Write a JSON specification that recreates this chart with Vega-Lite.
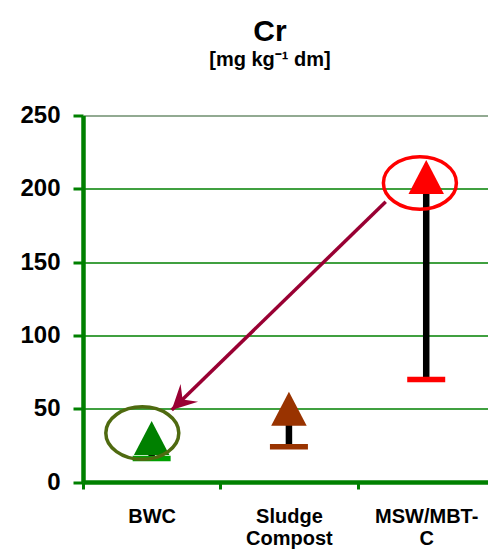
{
  "$schema": "https://vega.github.io/schema/vega-lite/v6.json",
  "width": 405,
  "height": 366.5,
  "autosize": {"type": "none"},
  "padding": {"left": 83, "top": 115.5, "right": 0, "bottom": 76},
  "background": "white",
  "title": {
    "text": "Cr",
    "subtitle": "[mg kg⁻¹ dm]",
    "font": "Liberation Sans",
    "fontSize": 30,
    "fontWeight": "bold",
    "color": "black",
    "subtitleFont": "Liberation Sans",
    "subtitleFontSize": 20,
    "subtitleFontWeight": "bold",
    "subtitleColor": "black",
    "subtitlePadding": 3,
    "anchor": "middle",
    "frame": "group",
    "dx": -15.5,
    "offset": 34
  },
  "datasets": {
    "series": [
      {"cat": "BWC", "pos": 0.5, "max": 30, "min": 16},
      {"cat": "Sludge Compost", "pos": 1.5, "max": 50, "min": 24},
      {"cat": "MSW/MBT-C", "pos": 2.5, "max": 208, "min": 70}
    ],
    "ellipses": [
      {"target": "BWC", "ex": 0.432, "ey": 33.4},
      {"target": "MSW/MBT-C", "ex": 2.454, "ey": 204}
    ],
    "arrow": [
      {"ax": 2.205, "ay": 191.2, "bx": 0.646, "by": 49.1}
    ]
  },
  "layer": [
    {
      "data": {"name": "series"},
      "mark": {"type": "rule", "strokeWidth": 6.5, "color": "black"},
      "encoding": {
        "x": {
          "field": "pos", "type": "quantitative", "title": null,
          "scale": {"domain": [0, 2.95], "nice": false, "zero": false},
          "axis": {
            "values": [0, 0.5, 1, 1.5, 2, 2.5],
            "labelExpr": "datum.value == 0.5 ? 'BWC' : datum.value == 1.5 ? ['Sludge','Compost'] : datum.value == 2.5 ? ['MSW/MBT-','C'] : ''",
            "tickOpacity": {"condition": {"test": "datum.value % 1 != 0", "value": 0}, "value": 1},
            "grid": false,
            "domainColor": "#008000",
            "domainWidth": 4.5,
            "tickColor": "#008000",
            "tickWidth": 3,
            "tickSize": 7,
            "labelPadding": 17,
            "labelFont": "Liberation Sans",
            "labelFontSize": 20,
            "labelFontWeight": "bold",
            "labelColor": "black",
            "labelLineHeight": 22,
            "labelAngle": 0,
            "labelOverlap": false,
            "labelFlush": false,
            "labelBound": false
          }
        },
        "y": {
          "field": "max", "type": "quantitative", "title": null,
          "scale": {"domain": [0, 250], "nice": false, "zero": true},
          "axis": {
            "values": [0, 50, 100, 150, 200, 250],
            "grid": true,
            "gridColor": {"condition": {"test": "datum.value == 250", "value": "#6e8e6e"}, "value": "#008000"},
            "gridWidth": 1.7,
            "domainColor": "#008000",
            "domainWidth": 4.5,
            "tickColor": "#008000",
            "tickWidth": 3,
            "tickSize": 10,
            "labelPadding": 13,
            "labelFont": "Liberation Sans",
            "labelFontSize": 24,
            "labelFontWeight": "bold",
            "labelColor": "black",
            "labelFlush": false,
            "labelBound": false,
            "labelOverlap": false
          }
        },
        "y2": {"field": "min"}
      }
    },
    {
      "data": {"name": "series"},
      "mark": {"type": "tick", "orient": "horizontal", "size": 38, "thickness": 5.5, "opacity": 1},
      "encoding": {
        "x": {"field": "pos", "type": "quantitative", "title": null},
        "y": {"field": "min", "type": "quantitative", "title": null},
        "color": {
          "field": "cat", "type": "nominal", "legend": null,
          "scale": {"domain": ["BWC", "Sludge Compost", "MSW/MBT-C"], "range": ["#00a000", "#993300", "#ff0000"]}
        }
      }
    },
    {
      "data": {"name": "series"},
      "mark": {"type": "point", "shape": "M0,-0.958L1,0.958L-1,0.958Z", "filled": true, "size": 1260, "opacity": 1, "strokeWidth": 0},
      "encoding": {
        "x": {"field": "pos", "type": "quantitative", "title": null},
        "y": {"field": "max", "type": "quantitative", "title": null},
        "color": {
          "field": "cat", "type": "nominal", "legend": null,
          "scale": {"domain": ["BWC", "Sludge Compost", "MSW/MBT-C"], "range": ["#008000", "#993300", "#ff0000"]}
        }
      }
    },
    {
      "data": {"name": "ellipses"},
      "mark": {"type": "point", "shape": "M1,0C1,0.397,0.552,0.719,0,0.719C-0.552,0.719,-1,0.397,-1,0C-1,-0.397,-0.552,-0.719,0,-0.719C0.552,-0.719,1,-0.397,1,0Z", "filled": false, "size": 5329, "strokeWidth": 3.5, "opacity": 1},
      "encoding": {
        "x": {"field": "ex", "type": "quantitative", "title": null},
        "y": {"field": "ey", "type": "quantitative", "title": null},
        "color": {
          "field": "target", "type": "nominal", "legend": null,
          "scale": {"domain": ["BWC", "MSW/MBT-C"], "range": ["#4f6a10", "#ff0000"]}
        }
      }
    },
    {
      "data": {"name": "arrow"},
      "mark": {"type": "rule", "strokeWidth": 3.5, "color": "#990033"},
      "encoding": {
        "x": {"field": "ax", "type": "quantitative", "title": null},
        "y": {"field": "ay", "type": "quantitative", "title": null},
        "x2": {"field": "bx"},
        "y2": {"field": "by"}
      }
    },
    {
      "data": {"name": "arrow"},
      "mark": {"type": "point", "shape": "M0,0L0.908,1.782L0,1.1L-0.908,1.782Z", "filled": true, "size": 762, "angle": 225.8, "color": "#990033", "opacity": 1, "strokeWidth": 0},
      "encoding": {
        "x": {"field": "bx", "type": "quantitative", "title": null},
        "y": {"field": "by", "type": "quantitative", "title": null}
      }
    }
  ],
  "resolve": {"scale": {"color": "independent"}},
  "config": {"view": {"stroke": null}}
}
